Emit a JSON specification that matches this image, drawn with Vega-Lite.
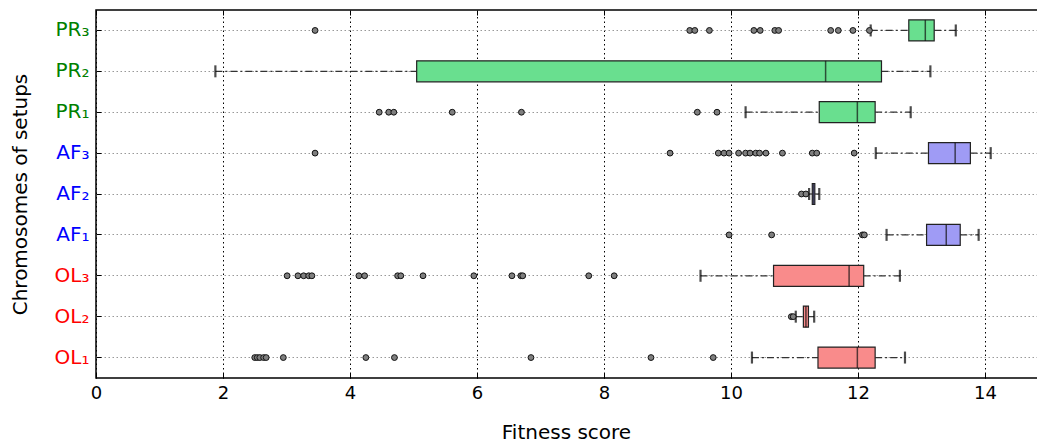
{
  "$schema": "https://vega.github.io/schema/vega-lite/v6.json",
  "width": 945,
  "height": 368,
  "autosize": "none",
  "padding": {"left": 96, "top": 10, "right": 0, "bottom": 65},
  "background": "white",
  "config": {
    "font": "DejaVu Sans",
    "view": {"stroke": "black", "strokeWidth": 1.5},
    "axis": {"labelFont": "DejaVu Sans", "titleFont": "DejaVu Sans", "titleFontWeight": "normal", "domain": false}
  },
  "datasets": {
    "boxes": [
      {"setup": "PR₃", "group": "PR", "lower": 12.2, "q1": 12.8, "median": 13.06, "q3": 13.2, "upper": 13.54},
      {"setup": "PR₂", "group": "PR", "lower": 1.88, "q1": 5.05, "median": 11.49, "q3": 12.37, "upper": 13.14},
      {"setup": "PR₁", "group": "PR", "lower": 10.23, "q1": 11.39, "median": 11.99, "q3": 12.27, "upper": 12.83},
      {"setup": "AF₃", "group": "AF", "lower": 12.28, "q1": 13.11, "median": 13.53, "q3": 13.77, "upper": 14.09},
      {"setup": "AF₂", "group": "AF", "lower": 11.23, "q1": 11.28, "median": 11.3, "q3": 11.32, "upper": 11.39},
      {"setup": "AF₁", "group": "AF", "lower": 12.45, "q1": 13.08, "median": 13.39, "q3": 13.61, "upper": 13.9},
      {"setup": "OL₃", "group": "OL", "lower": 9.52, "q1": 10.67, "median": 11.86, "q3": 12.09, "upper": 12.66},
      {"setup": "OL₂", "group": "OL", "lower": 11.02, "q1": 11.14, "median": 11.18, "q3": 11.22, "upper": 11.31},
      {"setup": "OL₁", "group": "OL", "lower": 10.33, "q1": 11.37, "median": 11.99, "q3": 12.27, "upper": 12.74}
    ],
    "outliers": [
      {"setup": "PR₃", "value": 3.45}, {"setup": "PR₃", "value": 9.35}, {"setup": "PR₃", "value": 9.43}, {"setup": "PR₃", "value": 9.66},
      {"setup": "PR₃", "value": 10.36}, {"setup": "PR₃", "value": 10.46}, {"setup": "PR₃", "value": 10.69}, {"setup": "PR₃", "value": 10.75},
      {"setup": "PR₃", "value": 11.57}, {"setup": "PR₃", "value": 11.69}, {"setup": "PR₃", "value": 11.92}, {"setup": "PR₃", "value": 12.18},
      {"setup": "PR₁", "value": 4.46}, {"setup": "PR₁", "value": 4.61}, {"setup": "PR₁", "value": 4.69}, {"setup": "PR₁", "value": 5.61},
      {"setup": "PR₁", "value": 6.7}, {"setup": "PR₁", "value": 9.47}, {"setup": "PR₁", "value": 9.78},
      {"setup": "AF₃", "value": 3.45}, {"setup": "AF₃", "value": 9.04}, {"setup": "AF₃", "value": 9.8}, {"setup": "AF₃", "value": 9.89},
      {"setup": "AF₃", "value": 9.97}, {"setup": "AF₃", "value": 10.12}, {"setup": "AF₃", "value": 10.23}, {"setup": "AF₃", "value": 10.3},
      {"setup": "AF₃", "value": 10.39}, {"setup": "AF₃", "value": 10.45}, {"setup": "AF₃", "value": 10.55}, {"setup": "AF₃", "value": 10.81},
      {"setup": "AF₃", "value": 11.28}, {"setup": "AF₃", "value": 11.35}, {"setup": "AF₃", "value": 11.94},
      {"setup": "AF₂", "value": 11.11}, {"setup": "AF₂", "value": 11.18},
      {"setup": "AF₁", "value": 9.97}, {"setup": "AF₁", "value": 10.64}, {"setup": "AF₁", "value": 12.07}, {"setup": "AF₁", "value": 12.1},
      {"setup": "OL₃", "value": 3.01}, {"setup": "OL₃", "value": 3.18}, {"setup": "OL₃", "value": 3.27}, {"setup": "OL₃", "value": 3.35},
      {"setup": "OL₃", "value": 3.4}, {"setup": "OL₃", "value": 4.14}, {"setup": "OL₃", "value": 4.23}, {"setup": "OL₃", "value": 4.75},
      {"setup": "OL₃", "value": 4.8}, {"setup": "OL₃", "value": 5.15}, {"setup": "OL₃", "value": 5.95}, {"setup": "OL₃", "value": 6.55},
      {"setup": "OL₃", "value": 6.69}, {"setup": "OL₃", "value": 6.72}, {"setup": "OL₃", "value": 7.76}, {"setup": "OL₃", "value": 8.16},
      {"setup": "OL₂", "value": 10.95}, {"setup": "OL₂", "value": 10.98},
      {"setup": "OL₁", "value": 2.5}, {"setup": "OL₁", "value": 2.54}, {"setup": "OL₁", "value": 2.58}, {"setup": "OL₁", "value": 2.64},
      {"setup": "OL₁", "value": 2.68}, {"setup": "OL₁", "value": 2.95}, {"setup": "OL₁", "value": 4.25}, {"setup": "OL₁", "value": 4.7},
      {"setup": "OL₁", "value": 6.85}, {"setup": "OL₁", "value": 8.74}, {"setup": "OL₁", "value": 9.72}
    ]
  },
  "resolve": {"scale": {"x": "shared"}, "axis": {"x": "independent"}},
  "encoding": {
    "y": {
      "field": "setup", "type": "nominal",
      "sort": ["PR₃", "PR₂", "PR₁", "AF₃", "AF₂", "AF₁", "OL₃", "OL₂", "OL₁"],
      "scale": {"type": "band", "paddingInner": 0, "paddingOuter": 0},
      "axis": {
        "title": "Chromosomes of setups", "titleFontSize": 20, "titleColor": "black",
        "titleX": -76, "titleY": 184, "titleAngle": -90, "titleAlign": "center", "titleBaseline": "middle",
        "labelFontSize": 20, "labelPadding": 12, "tickSize": -5, "tickColor": "black",
        "labelColor": {"condition": [{"test": "indexof(datum.label,'PR')===0", "value": "#008000"}, {"test": "indexof(datum.label,'AF')===0", "value": "#0000ff"}], "value": "#ff0000"},
        "grid": true, "gridColor": "#999999", "gridDash": [1.5, 2.5], "gridWidth": 1
      }
    }
  },
  "layer": [
    {
      "data": {"name": "boxes"},
      "mark": {"type": "rule", "color": "#333333", "strokeDash": [7, 3, 2, 3], "strokeWidth": 1.2},
      "encoding": {
        "x": {"field": "lower", "type": "quantitative", "scale": {"domain": [0, 14.882], "nice": false, "zero": false},
          "axis": {"title": "Fitness score", "titleFontSize": 20, "titleColor": "black",
            "titleY": 54, "titleX": 470, "titleAlign": "center", "titleBaseline": "middle",
            "labelFontSize": 18, "labelColor": "black", "labelPadding": 11, "labelFlush": false, "tickSize": -5, "tickColor": "black",
            "values": [0, 2, 4, 6, 8, 10, 12, 14], "format": "d",
            "grid": true, "gridColor": "black", "gridDash": [1.5, 3], "gridWidth": 1}},
        "x2": {"field": "q1"}
      }
    },
    {
      "data": {"name": "boxes"},
      "mark": {"type": "rule", "color": "#333333", "strokeDash": [7, 3, 2, 3], "strokeWidth": 1.2},
      "encoding": {"x": {"field": "q3", "type": "quantitative", "axis": null}, "x2": {"field": "upper"}}
    },
    {
      "data": {"name": "boxes"},
      "mark": {"type": "bar", "height": 21, "stroke": "#222222", "strokeWidth": 1.2},
      "encoding": {
        "x": {"field": "q1", "type": "quantitative", "axis": null}, "x2": {"field": "q3"},
        "color": {"field": "group", "type": "nominal", "legend": null,
          "scale": {"domain": ["PR", "AF", "OL"], "range": ["#69df8f", "#9f9bf5", "#f98b8b"]}}
      }
    },
    {
      "data": {"name": "boxes"},
      "mark": {"type": "tick", "orient": "vertical", "size": 21, "thickness": 1.5, "color": "#111111"},
      "encoding": {"x": {"field": "median", "type": "quantitative", "axis": null}}
    },
    {
      "data": {"name": "boxes"},
      "mark": {"type": "tick", "orient": "vertical", "size": 12, "thickness": 2.2, "color": "black"},
      "encoding": {"x": {"field": "lower", "type": "quantitative", "axis": null}}
    },
    {
      "data": {"name": "boxes"},
      "mark": {"type": "tick", "orient": "vertical", "size": 12, "thickness": 2.2, "color": "black"},
      "encoding": {"x": {"field": "upper", "type": "quantitative", "axis": null}}
    },
    {
      "data": {"name": "outliers"},
      "mark": {"type": "circle", "size": 34, "fill": "#7f7f7f", "stroke": "#111111", "strokeWidth": 1, "opacity": 1},
      "encoding": {"x": {"field": "value", "type": "quantitative",
        "axis": {"orient": "top", "title": null, "labels": false, "grid": false, "tickSize": -5, "tickColor": "black", "values": [0, 2, 4, 6, 8, 10, 12, 14]}}}
    }
  ]
}
